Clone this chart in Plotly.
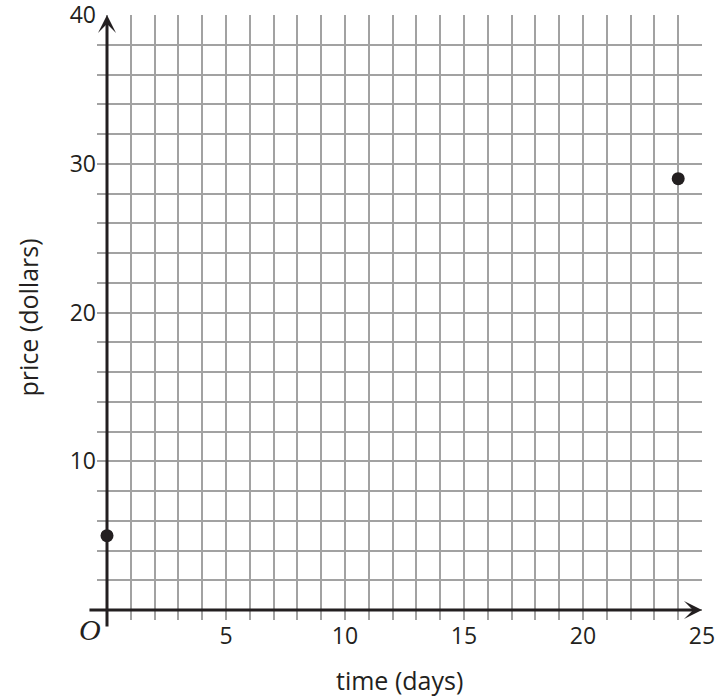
import plotly.graph_objects as go

time_days = [0, 24]
price_dollars = [5, 29]
x_grid_vals = list(range(0, 26))          # one grid line per day
x_label_vals = [5, 10, 15, 20, 25]
y_grid_vals = list(range(0, 41, 2))       # one grid line per 2 dollars
y_label_vals = [10, 20, 30, 40]

FONT = "Open Sans"
GRID = "#a2a2a2"
INK = "#231f20"

x_tick_text = [str(v) if v in x_label_vals else "" for v in x_grid_vals]
y_tick_text = [str(v) if v in y_label_vals else "" for v in y_grid_vals]

fig = go.Figure()
fig.add_trace(go.Scatter(
    x=time_days, y=price_dollars, mode="markers",
    marker=dict(size=13, color=INK), cliponaxis=False, showlegend=False,
))

axis_common = dict(
    showgrid=True, gridcolor=GRID, gridwidth=1.5,
    zeroline=False, showline=False, ticks="", automargin=False,
    ticklabeloverflow="allow",
    tickfont=dict(family=FONT, size=23, color=INK),
)
fig.update_xaxes(range=[-0.42, 25], tickmode="array", tickvals=x_grid_vals,
                 ticktext=x_tick_text, ticklabelstandoff=0, **axis_common)
fig.update_yaxes(range=[-0.67, 40], tickmode="array", tickvals=y_grid_vals,
                 ticktext=y_tick_text, ticklabelstandoff=0, **axis_common)

# axis lines with arrowheads
fig.add_annotation(x=25, y=0, ax=-0.8, ay=0, xref="x", yref="y", axref="x", ayref="y",
                   text="", showarrow=True, arrowhead=3, arrowsize=1.0, arrowwidth=3,
                   arrowcolor=INK)
fig.add_annotation(x=0, y=40, ax=0, ay=-1.2, xref="x", yref="y", axref="x", ayref="y",
                   text="", showarrow=True, arrowhead=3, arrowsize=1.0, arrowwidth=3,
                   arrowcolor=INK)
fig.add_annotation(x=0, y=0, xref="x", yref="y", text="<i>O</i>", showarrow=False,
                   xanchor="right", yanchor="top", xshift=-4, yshift=-1,
                   font=dict(family="Liberation Serif", size=30, color=INK))

# axis titles
fig.add_annotation(x=0.5, y=0, xref="paper", yref="paper", text="time (days)",
                   showarrow=False, yanchor="middle", yshift=-60,
                   font=dict(family=FONT, size=25, color=INK))
fig.add_annotation(x=0, y=0.5, xref="paper", yref="paper", text="price (dollars)",
                   showarrow=False, xanchor="center", xshift=-70, textangle=-90,
                   font=dict(family=FONT, size=25, color=INK))

fig.update_layout(
    width=726, height=696,
    margin=dict(l=97, r=24, t=15, b=76),
    plot_bgcolor="white", paper_bgcolor="white",
)
fig.write_html("out.html", config={"displayModeBar": False},
               post_script="document.body.style.margin='0';document.body.style.overflow='hidden';")
